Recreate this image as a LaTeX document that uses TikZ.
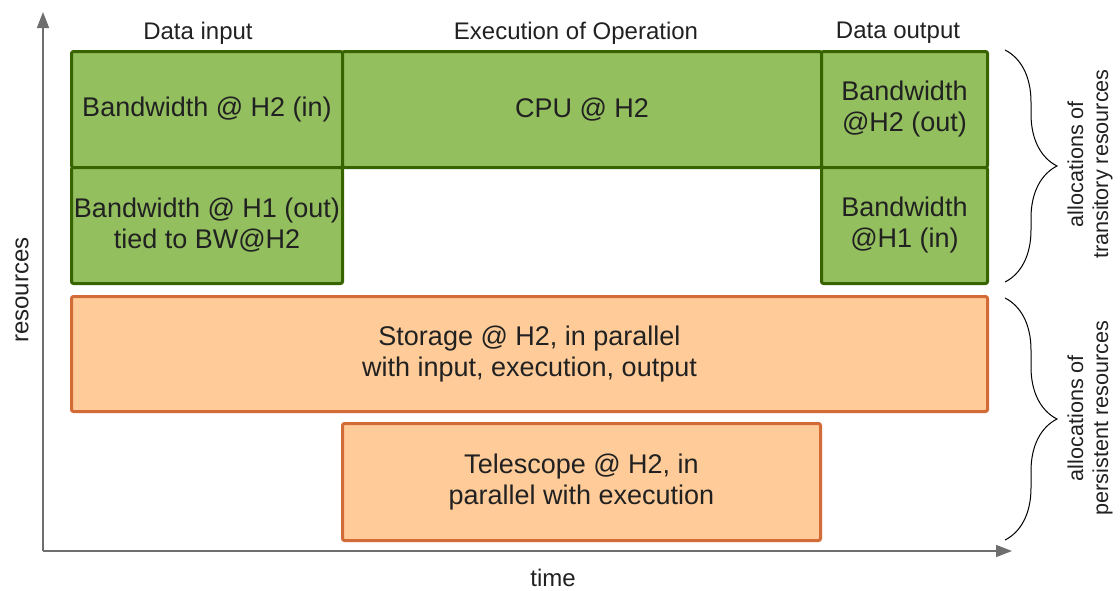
\documentclass[tikz,border=0pt]{standalone}
\usepackage{fontspec}
\setmainfont{Liberation Sans}
\usetikzlibrary{arrows.meta,decorations.pathreplacing}

\definecolor{taskgreen}{RGB}{147,191,95}
\definecolor{taskgreenline}{RGB}{56,100,0}
\definecolor{resorange}{RGB}{255,204,153}
\definecolor{resorangeline}{RGB}{210,107,54}
\definecolor{axisgray}{RGB}{110,110,110}

\tikzset{
  slot/.style={rectangle, draw, line width=1.5pt, rounded corners=1pt, anchor=north west,
    align=center, text=black!87, inner sep=0pt, font=\fontsize{13.5}{15.5}\selectfont},
  greenslot/.style={slot, fill=taskgreen, draw=taskgreenline},
  orangeslot/.style={slot, fill=resorange, draw=resorangeline},
  phase/.style={text=black!87, font=\fontsize{12}{14}\selectfont},
  bracetext/.style={rotate=90, align=center, text=black!87, font=\fontsize{10.8}{12.5}\selectfont},
  axis/.style={draw=axisgray, line width=0.8pt, -{Triangle[length=8pt, width=6pt]}},
  allocbrace/.style={decorate, decoration={brace, amplitude=26pt}, line width=0.5pt}
}

\begin{document}
\begin{tikzpicture}[x=1pt, y=-1pt]
  \useasboundingbox (0,0) rectangle (560,295);

  % axes
  \coordinate (origin) at (21.5,275.5);
  \coordinate (ytop) at (21.5,6);
  \coordinate (xend) at (506,275.5);
  \draw[axis] (origin) -- (ytop);
  \draw[axis] (origin) -- (xend);
  \node[phase, rotate=90] (reslabel) at (11,145) {resources};
  \node[phase] (timelabel) at (276.5,289) {time};

  % phases
  \node[phase] (inhead) at (99,16.5) {Data input};
  \node[phase] (exechead) at (288,16.5) {Execution of Operation};
  \node[phase] (outhead) at (449,16.5) {Data output};

  % transitory allocations
  \node[greenslot, minimum width=135.5pt, minimum height=58pt] (bwin) at (35,25) {Bandwidth @ H2 (in)};
  \node[greenslot, minimum width=239.5pt, minimum height=58pt] (cpu) at (170.5,25) {CPU @ H2};
  \node[greenslot, minimum width=83pt, minimum height=58pt] (bwout) at (410,25) {Bandwidth\\@H2 (out)};
  \node[greenslot, minimum width=135.5pt, minimum height=58pt] (bwtied) at (35,83) {Bandwidth @ H1 (out)\\tied to BW@H2};
  \node[greenslot, minimum width=83pt, minimum height=58pt] (bwh1) at (410,83) {Bandwidth\\@H1 (in)};

  % persistent allocations
  \node[orangeslot, minimum width=458pt, minimum height=57.5pt] (storage) at (35,147.5) {Storage @ H2, in parallel\\with input, execution, output};
  \node[orangeslot, minimum width=239pt, minimum height=58.5pt] (telescope) at (170.5,211) {Telescope @ H2, in\\parallel with execution};

  % braces
  \coordinate (tb1) at (502.5,25);
  \coordinate (tb2) at (502.5,141);
  \coordinate (pb1) at (502.5,149);
  \coordinate (pb2) at (502.5,270);
  \draw[allocbrace] (tb1) -- (tb2);
  \draw[allocbrace] (pb1) -- (pb2);
  \node[bracetext] (translabel) at (545,82) {allocations of\\transitory resources};
  \node[bracetext] (perslabel) at (545,209) {allocations of\\persistent resources};
\end{tikzpicture}
\end{document}
